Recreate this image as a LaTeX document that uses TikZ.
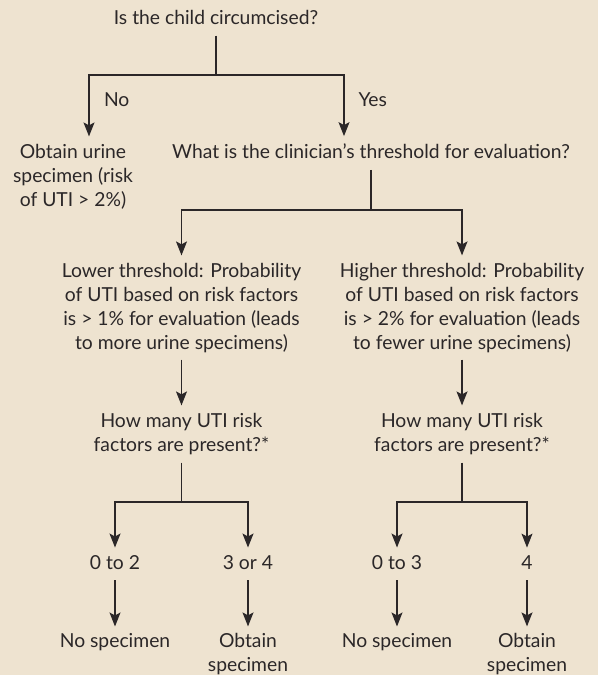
\documentclass[tikz,border=0pt]{standalone}
\usepackage{fontspec}
\setmainfont{Lato}
\usetikzlibrary{arrows.meta,calc}
\definecolor{bg}{HTML}{EEE3D0}
\definecolor{ink}{HTML}{2B2728}
\newcommand\mystrut{\rule[-5pt]{0pt}{18pt}}
\begin{document}
\begin{tikzpicture}[x=1pt,y=-1pt,
  txt/.style={inner sep=0pt, outer sep=0pt, align=center, text=ink,
    font=\fontsize{19.3}{24}\selectfont,
    execute at begin node=\mystrut, execute at end node=\mystrut},
  link/.style={draw=ink, line width=1.1pt},
  arr/.style={link, -{Stealth[length=14pt,width=11pt,inset=3pt]}},
]
\fill[bg] (0,0) rectangle (598,675);
\useasboundingbox (0,0) rectangle (598,675);

\node[txt] (q1) at (216,20) {Is the child circumcised?};
\node[txt, anchor=west] (no) at (104,102) {No};
\node[txt, anchor=west] (yes) at (358.5,102) {Yes};
\node[txt] (ob) at (73,178) {Obtain urine\\specimen (risk\\of UTI > 2\%)};
\node[txt] (wh) at (371,154) {What is the clinician’s threshold for evaluation?};
\node[txt] (lo) at (181.5,309) {Lower threshold: Probability\\of UTI based on risk factors\\is > 1\% for evaluation (leads\\to more urine specimens)};
\node[txt] (hi) at (462,309) {Higher threshold: Probability\\of UTI based on risk factors\\is > 2\% for evaluation (leads\\to fewer urine specimens)};
\node[txt] (hm1) at (181.5,435) {How many UTI risk\\factors are present?*};
\node[txt] (hm2) at (462,435) {How many UTI risk\\factors are present?*};
\node[txt] (a1) at (115,565) {0 to 2};
\node[txt] (a2) at (248,565) {3 or 4};
\node[txt] (a3) at (397,565) {0 to 3};
\node[txt] (a4) at (527,565) {4};
\node[txt] (n1) at (115,643) {No specimen};
\node[txt] (s1) at (248,655) {Obtain\\specimen};
\node[txt] (n2) at (397,643) {No specimen};
\node[txt] (s2) at (527,655) {Obtain\\specimen};

\coordinate (j1) at (216,75);
\draw[link, shorten <=6pt] (q1.south) -- (j1);
\draw[arr, shorten >=8pt] (j1) -| ([xshift=16pt]ob.north);
\draw[arr, shorten >=8pt] (j1) -| ([xshift=-27pt]wh.north);

\coordinate (j2) at (371,210);
\draw[link, shorten <=6pt] (wh.south) -- (j2);
\draw[arr, shorten >=8pt] (j2) -| (lo.north);
\draw[arr, shorten >=8pt] (j2) -| (hi.north);

\draw[arr, shorten <=5pt, shorten >=8pt] (lo.south) -- (hm1.north);
\draw[arr, shorten <=5pt, shorten >=8pt] (hi.south) -- (hm2.north);

\coordinate (j3) at (181.5,502);
\coordinate (j4) at (462,502);
\draw[link, shorten <=6pt] (hm1.south) -- (j3);
\draw[link, shorten <=6pt] (hm2.south) -- (j4);
\draw[arr, shorten >=8pt] (j3) -| (a1.north);
\draw[arr, shorten >=8pt] (j3) -| (a2.north);
\draw[arr, shorten >=8pt] (j4) -| (a3.north);
\draw[arr, shorten >=8pt] (j4) -| (a4.north);

\draw[arr, shorten <=6pt, shorten >=7pt] (a1.south) -- (n1.north);
\draw[arr, shorten <=6pt, shorten >=7pt] (a2.south) -- (s1.north);
\draw[arr, shorten <=6pt, shorten >=7pt] (a3.south) -- (n2.north);
\draw[arr, shorten <=6pt, shorten >=7pt] (a4.south) -- (s2.north);
\end{tikzpicture}
\end{document}
